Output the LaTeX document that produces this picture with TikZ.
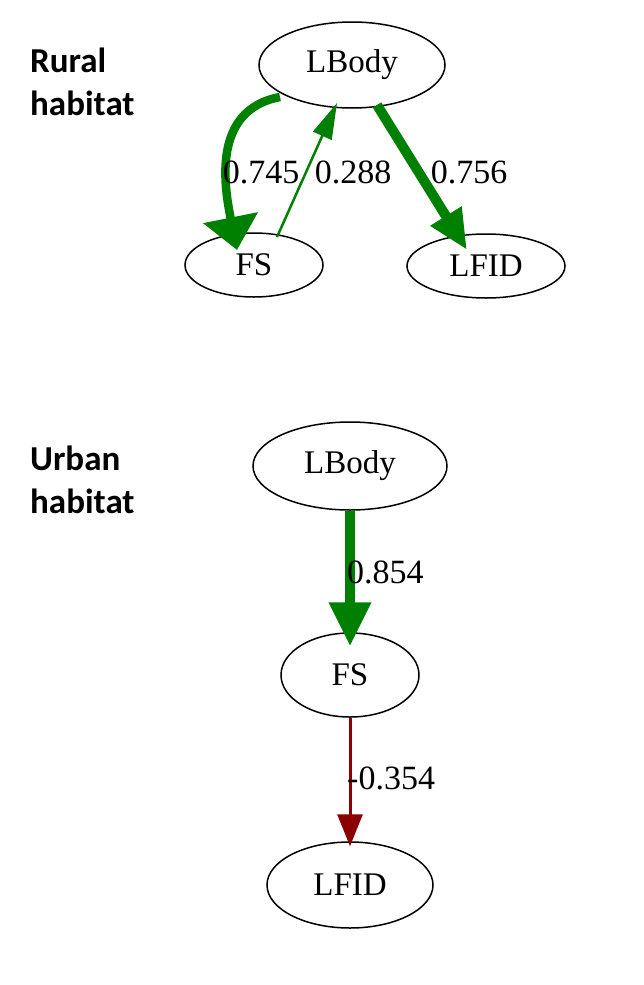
\documentclass[tikz,border=0pt]{standalone}
\usepackage{fontspec}
\setmainfont{Liberation Serif}
\newfontfamily\headfont{Carlito}
\usetikzlibrary{arrows.meta,calc,shapes.geometric}
\definecolor{pgreen}{RGB}{0,128,0}
\definecolor{pred}{RGB}{139,0,0}
\tikzset{
  var/.style={draw=black,line width=1.5pt,ellipse,inner sep=0pt,font=\fontsize{33}{38}\selectfont},
  lab/.style={font=\fontsize{34}{38}\selectfont,inner sep=0pt},
  head/.style={font=\headfont\bfseries\fontsize{35}{43}\selectfont,inner sep=0pt,anchor=base west},
}
\begin{document}
\begin{tikzpicture}[x=1pt,y=-1pt]
\useasboundingbox (0,0) rectangle (644,985);
% headings
\node[head] (h1a) at (30,72) {Rural};
\node[head] (h1b) at (30,115) {habitat};
\node[head] (h2a) at (30,470) {Urban};
\node[head] (h2b) at (30,513) {habitat};
% rural nodes
\node[var,minimum width=186pt,minimum height=86pt] (L1) at (352,65) {LBody};
\node[var,minimum width=138pt,minimum height=64pt] (F1) at (254,265) {FS};
\node[var,minimum width=158pt,minimum height=64pt] (N1) at (486,266) {LFID};
% rural edges
\draw[pgreen,line width=8.5pt,-{Triangle[length=33pt,width=54pt]}]
  ($(L1)+(-72,32)$) .. controls (210,110) and (225,190) .. ($(F1)+(-17,-15)$);
\draw[pgreen,line width=2.5pt,-{Triangle[length=36pt,width=20pt]}]
  ($(F1)+(23,-28)$) -- ($(L1)+(-15,38)$);
\draw[pgreen,line width=10pt,-{Triangle[length=40pt,width=34pt]}]
  ($(L1)+(25,40)$) -- ($(N1)+(-19,-16)$);
\node[lab] (e1) at (261,172) {0.745};
\node[lab] (e2) at (353,172) {0.288};
\node[lab] (e3) at (469,172) {0.756};
% urban nodes
\node[var,minimum width=194pt,minimum height=88pt] (L2) at (350,466) {LBody};
\node[var,minimum width=138pt,minimum height=84pt] (F2) at (350,675) {FS};
\node[var,minimum width=166pt,minimum height=86pt] (N2) at (350,885) {LFID};
% urban edges
\draw[pgreen,line width=10pt,-{Triangle[length=44pt,width=40pt]}]
  (L2.south) -- ($(F2.north)+(0,14)$);
\draw[pred,line width=3pt,-{Triangle[length=32pt,width=25pt]}]
  (F2.south) -- ($(N2.north)+(0,5)$);
\node[lab,anchor=west] (e4) at (347,572) {0.854};
\node[lab,anchor=west] (e5) at (347,778) {-0.354};
\end{tikzpicture}
\end{document}
